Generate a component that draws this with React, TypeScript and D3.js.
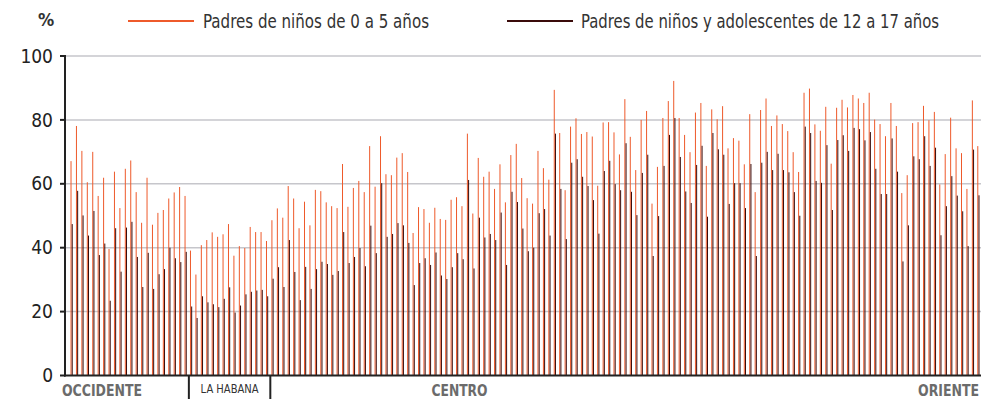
import * as d3 from 'd3'

// % de padres por municipio (168), en orden de occidente a oriente
const padres0a5 = [
  67.1, 78.1, 70.3, 60.5, 70.0, 56.2, 61.9, 39.6, 63.8, 52.4, 64.7, 67.3, 57.4, 47.8, 61.9, 47.2, 50.9, 51.8, 55.4, 57.3,
  59.0, 56.2, 39.1, 31.6, 40.8, 42.4, 44.8, 43.4, 44.2, 47.4, 37.5, 40.5, 39.9, 46.5, 44.9, 44.9, 42.1, 48.6, 52.3, 49.4, 59.3,
  55.4, 46.1, 54.4, 47.0, 58.1, 57.7, 54.2, 53.0, 52.4, 66.2, 52.8, 58.7, 60.9, 57.4, 71.8, 59.1, 74.9, 63.0, 62.7, 68.2, 69.6,
  63.7, 44.6, 52.7, 52.1, 47.8, 52.5, 49.0, 48.7, 55.0, 55.8, 53.0, 75.7, 50.7, 68.1, 62.2, 63.8, 58.4, 66.1, 54.2, 69.0, 72.5,
  61.8, 55.5, 53.8, 70.3, 64.9, 61.3, 89.4, 75.9, 58.0, 77.9, 80.5, 75.6, 76.2, 74.8, 59.4, 79.2, 79.3, 76.1, 69.2, 86.5, 74.7,
  64.3, 80.0, 82.8, 53.8, 65.3, 80.6, 85.9, 92.2, 80.6, 75.3, 69.9, 82.3, 85.3, 65.6, 83.3, 80.2, 84.3, 71.1, 74.3, 73.5, 66.1,
  81.8, 57.4, 83.1, 86.7, 78.1, 81.4, 78.7, 76.5, 69.9, 63.7, 88.5, 89.8, 78.6, 76.6, 84.1, 66.3, 83.8, 86.3, 83.9, 87.8, 86.7, 85.3,
  88.5, 80.1, 78.7, 74.9, 85.3, 78.1, 57.1, 62.7, 79.0, 79.3, 84.4, 79.9, 82.5, 59.8, 69.3, 80.7, 71.1, 69.6, 58.4, 86.1, 71.8,
]

const padres12a17 = [
  47.4, 57.8, 50.1, 43.8, 51.5, 37.7, 41.3, 23.4, 46.1, 32.5, 46.3, 48.1, 37.1, 27.7, 38.4, 27.1, 31.7, 33.3, 40.0, 36.7,
  35.5, 38.7, 21.6, 18.0, 24.8, 22.9, 22.3, 21.4, 24.0, 27.6, 19.7, 21.9, 25.4, 26.2, 26.6, 26.8, 24.8, 30.3, 33.9, 27.7, 42.4,
  32.4, 23.6, 34.0, 27.1, 33.3, 35.6, 34.9, 31.5, 32.7, 44.9, 35.2, 37.1, 39.9, 34.2, 46.9, 38.3, 60.2, 43.4, 44.3, 47.7, 47.0,
  41.5, 28.3, 35.2, 36.7, 34.6, 38.5, 31.3, 30.2, 33.9, 38.3, 36.4, 61.2, 33.5, 49.4, 43.2, 44.3, 42.4, 51.0, 34.6, 57.5, 54.3,
  46.0, 38.9, 40.0, 50.8, 52.1, 43.8, 75.7, 58.4, 42.7, 66.6, 67.7, 62.2, 59.3, 54.9, 44.4, 64.0, 67.2, 59.9, 58.0, 72.7, 57.5,
  50.2, 63.4, 69.1, 37.4, 49.9, 65.6, 75.3, 80.6, 68.4, 57.6, 54.0, 65.9, 71.9, 49.7, 75.9, 70.8, 69.1, 53.7, 60.2, 60.2, 52.4,
  66.2, 37.4, 66.6, 70.0, 64.3, 69.4, 64.3, 63.6, 57.4, 50.0, 77.9, 75.9, 60.9, 60.3, 72.1, 51.8, 73.7, 75.2, 70.3, 77.5, 77.1, 73.6,
  76.2, 64.7, 56.8, 56.8, 74.2, 63.8, 35.7, 47.0, 68.6, 67.7, 74.9, 65.6, 71.3, 43.9, 53.0, 62.4, 56.3, 51.4, 40.5, 70.7, 56.4,
]

const regiones = ['OCCIDENTE', 'LA HABANA', 'CENTRO', 'ORIENTE']
const municipiosPorRegion = [22, 15, 69, 62]
const yTicks = [0, 20, 40, 60, 80, 100]
const series = ['Padres de niños de 0 a 5 años', 'Padres de niños y adolescentes de 12 a 17 años']

const ORANGE = '#ee5a2b'
const DARK = '#3a0b0a'
const FONT = "'Liberation Sans Narrow', 'DejaVu Sans Condensed', 'Roboto', sans-serif"

export default function App() {
  const width = 998
  const height = 400
  const axisX = 65

  const idx = padres0a5.map((_, i) => i)
  const x = d3.scaleBand<number>().domain(idx).range([68.3, 980.5]).padding(0)
  const y = d3.scaleLinear().domain([0, 100]).range([375.5, 56])

  const step = x.step()
  const orangeX = (i: number) => (x(i) ?? 0) + step / 2
  const darkX = (i: number) => orangeX(i) + 1.2

  const starts: number[] = Array.from(d3.cumsum([0, ...municipiosPorRegion.slice(0, -1)]))
  const separators: number[] = starts.slice(1, 3).map(s => orangeX(s) - 1.6)

  const centroMid = starts[2] + municipiosPorRegion[2] / 2 - 0.5

  return (
    <svg width={width} height={height} style={{ position: 'absolute', left: 0, top: 0 }}>
      <rect width={width} height={height} fill="#fff" />

      {/* legend */}
      <text x={38} y={26} fontFamily={FONT} fontWeight="bold" fontSize={18} fill="#333">%</text>
      <line x1={128} x2={194} y1={21} y2={21} stroke={ORANGE} strokeWidth={2} />
      <text x={203} y={28} fontFamily={FONT} fontSize={19} fill="#333" textLength={226} lengthAdjust="spacingAndGlyphs">{series[0]}</text>
      <line x1={507} x2={573} y1={21} y2={21} stroke={DARK} strokeWidth={2} />
      <text x={581} y={28} fontFamily={FONT} fontSize={19} fill="#333" textLength={358} lengthAdjust="spacingAndGlyphs">{series[1]}</text>

      {/* grid */}
      {yTicks.filter(t => t > 0).map(t => (
        <line key={t} x1={axisX} x2={981} y1={y(t)} y2={y(t)} stroke="#c6c6cb" strokeWidth={1.5} />
      ))}

      {/* bars */}
      {padres0a5.map((v, i) => (
        <rect key={'o' + i} x={orangeX(i) - 0.5} y={y(v)} width={1} height={y(0) - y(v)} fill={ORANGE} />
      ))}
      {padres12a17.map((v, i) => (
        <rect key={'d' + i} x={darkX(i) - 0.5} y={y(v)} width={1} height={y(0) - y(v)} fill={DARK} />
      ))}

      {/* axes */}
      <line x1={axisX} x2={axisX} y1={y(100) - 1} y2={y(0) + 1} stroke="#222" strokeWidth={2} />
      <line x1={axisX - 1} x2={981} y1={y(0)} y2={y(0)} stroke="#222" strokeWidth={2} />
      {yTicks.map(t => (
        <g key={t}>
          <line x1={axisX - 5} x2={axisX} y1={y(t)} y2={y(t)} stroke="#222" strokeWidth={2} />
          <text x={53} y={y(t)} dy="0.35em" textAnchor="end" fontFamily={FONT} fontSize={19} fill="#222">{t}</text>
        </g>
      ))}

      {/* region separators and labels */}
      {separators.map((sx, i) => (
        <line key={i} x1={sx} x2={sx} y1={y(0)} y2={399} stroke="#222" strokeWidth={2} />
      ))}
      <text x={62} y={396} fontFamily={FONT} fontWeight="bold" fontSize={16} fill="#6b6b6b" textLength={80} lengthAdjust="spacingAndGlyphs">{regiones[0]}</text>
      <text x={(separators[0] + separators[1]) / 2} y={393} textAnchor="middle" fontFamily={FONT} fontSize={13} fill="#333" textLength={58} lengthAdjust="spacingAndGlyphs">{regiones[1]}</text>
      <text x={orangeX(centroMid) + 3} y={396} textAnchor="middle" fontFamily={FONT} fontWeight="bold" fontSize={16} fill="#6b6b6b" textLength={56} lengthAdjust="spacingAndGlyphs">{regiones[2]}</text>
      <text x={979} y={396} textAnchor="end" fontFamily={FONT} fontWeight="bold" fontSize={16} fill="#6b6b6b" textLength={61} lengthAdjust="spacingAndGlyphs">{regiones[3]}</text>
    </svg>
  )
}
